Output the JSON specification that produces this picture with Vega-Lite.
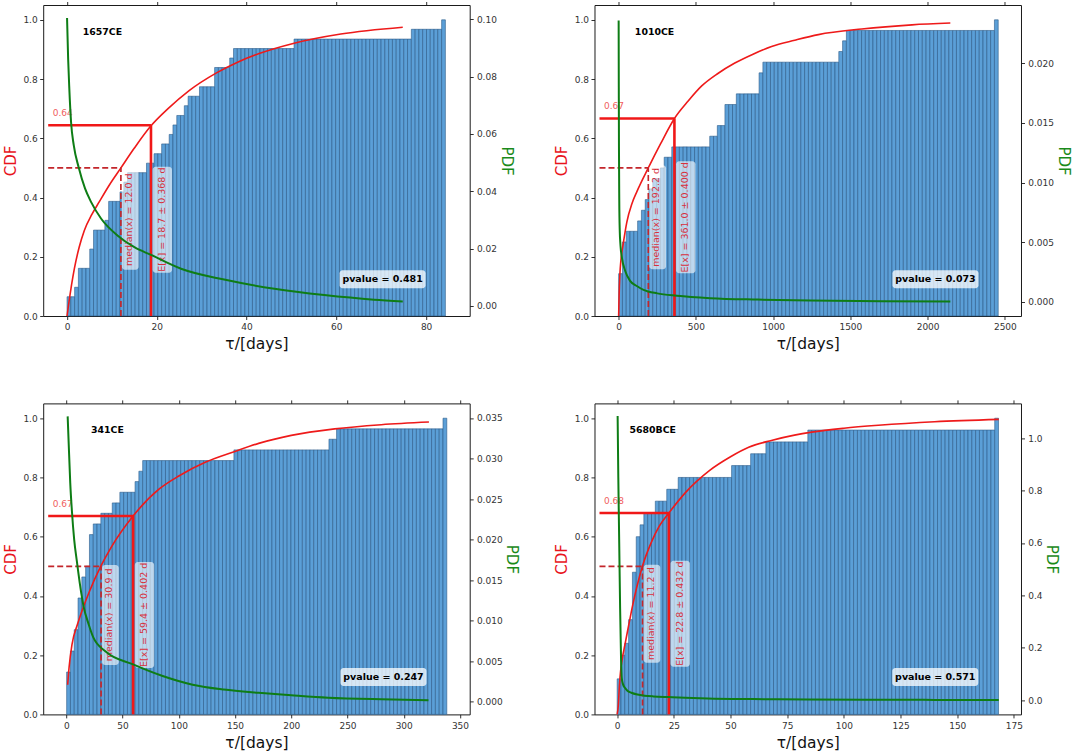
{
"$schema": "https://vega.github.io/schema/vega-lite/v6.json",
"background": "white",
"padding": {"left": 2.2, "top": 0, "right": 2, "bottom": 2},
"columns": 2,
"spacing": {"row": 87.4, "column": 124.3},
"bounds": "flush",
"datasets": {
"a1": [{"title":"1657CE","tx":3.5,"ty":0.96,"median":12.0,"mean":18.7,"cm":0.644,"half":0.5,"lo":0,"xmin":-4.2,"bc":0.325,"lc":"0.64","lm":"median(x) = 12.0 d","le":"E[x] = 18.7 ± 0.368 d","pv":"pvalue = 0.481","px":70.3,"py":0.124}],
"a2": [{"title":"1010CE","tx":105,"ty":0.958,"median":192.2,"mean":361.0,"cm":0.667,"half":0.5,"lo":0,"xmin":-124,"bc":0.333,"lc":"0.67","lm":"median(x) = 192.2 d","le":"E[x] = 361.0 ± 0.400 d","pv":"pvalue = 0.073","px":2051,"py":0.124}],
"a3": [{"title":"341CE","tx":21.9,"ty":0.96,"median":30.9,"mean":59.4,"cm":0.67,"half":0.5,"lo":0,"xmin":-16.1,"bc":0.336,"lc":"0.67","lm":"median(x) = 30.9 d","le":"E[x] = 59.4 ± 0.402 d","pv":"pvalue = 0.247","px":282,"py":0.126}],
"a4": [{"title":"5680BCE","tx":5.4,"ty":0.96,"median":11.2,"mean":22.8,"cm":0.68,"half":0.5,"lo":0,"xmin":-7.8,"bc":0.34,"lc":"0.68","lm":"median(x) = 11.2 d","le":"E[x] = 22.8 ± 0.432 d","pv":"pvalue = 0.571","px":140.3,"py":0.126}],
"c1": [{"x":0,"cdf":0},{"x":0.5,"cdf":0.055},{"x":1,"cdf":0.105},{"x":1.63,"cdf":0.16},{"x":2.7,"cdf":0.232},{"x":3.85,"cdf":0.289},{"x":5.5,"cdf":0.342},{"x":7.2,"cdf":0.386},{"x":9.5,"cdf":0.444},{"x":12,"cdf":0.5},{"x":15,"cdf":0.567},{"x":18.7,"cdf":0.642},{"x":22.5,"cdf":0.7},{"x":27.2,"cdf":0.761},{"x":33.2,"cdf":0.82},{"x":38,"cdf":0.857},{"x":42.8,"cdf":0.886},{"x":50.6,"cdf":0.921},{"x":61,"cdf":0.952},{"x":74.8,"cdf":0.975}],
"g1": [{"x":0,"pdf":0.1005},{"x":0.25,"pdf":0.086},{"x":0.5,"pdf":0.076},{"x":0.9,"pdf":0.064},{"x":1.5,"pdf":0.056},{"x":2.6,"pdf":0.0483},{"x":4,"pdf":0.041},{"x":5.34,"pdf":0.0363},{"x":7.57,"pdf":0.0305},{"x":11.3,"pdf":0.0245},{"x":15,"pdf":0.0205},{"x":18.7,"pdf":0.0178},{"x":25.4,"pdf":0.013},{"x":35,"pdf":0.0092},{"x":46.2,"pdf":0.006},{"x":57.3,"pdf":0.0038},{"x":68.4,"pdf":0.0022},{"x":74.8,"pdf":0.0016}],
"c2": [{"x":0,"cdf":0},{"x":3,"cdf":0.07},{"x":8,"cdf":0.14},{"x":15,"cdf":0.19},{"x":30,"cdf":0.245},{"x":53,"cdf":0.317},{"x":86.5,"cdf":0.38},{"x":118,"cdf":0.42},{"x":192,"cdf":0.5},{"x":270,"cdf":0.58},{"x":361,"cdf":0.667},{"x":450,"cdf":0.726},{"x":536,"cdf":0.776},{"x":640,"cdf":0.818},{"x":752,"cdf":0.854},{"x":870,"cdf":0.884},{"x":990,"cdf":0.91},{"x":1140,"cdf":0.931},{"x":1293,"cdf":0.95},{"x":1574,"cdf":0.969},{"x":1899,"cdf":0.983},{"x":2147,"cdf":0.989}],
"g2": [{"x":0,"pdf":0.0236},{"x":1,"pdf":0.018},{"x":2,"pdf":0.013},{"x":4,"pdf":0.0085},{"x":7,"pdf":0.006},{"x":12,"pdf":0.0047},{"x":21,"pdf":0.0037},{"x":42,"pdf":0.0026},{"x":74,"pdf":0.00175},{"x":120,"pdf":0.0013},{"x":161,"pdf":0.001},{"x":250,"pdf":0.0007},{"x":377,"pdf":0.0005},{"x":593,"pdf":0.0003},{"x":900,"pdf":0.00018},{"x":1242,"pdf":0.0001},{"x":1700,"pdf":0.00004},{"x":2147,"pdf":0.00001}],
"c3": [{"x":1.2,"cdf":0.1},{"x":2.5,"cdf":0.16},{"x":5,"cdf":0.235},{"x":10,"cdf":0.305},{"x":15.3,"cdf":0.364},{"x":20,"cdf":0.41},{"x":30.9,"cdf":0.502},{"x":40,"cdf":0.565},{"x":59.4,"cdf":0.67},{"x":82.9,"cdf":0.762},{"x":100,"cdf":0.805},{"x":124,"cdf":0.852},{"x":150,"cdf":0.888},{"x":171,"cdf":0.915},{"x":200,"cdf":0.942},{"x":238.6,"cdf":0.964},{"x":280,"cdf":0.978},{"x":322.4,"cdf":0.987}],
"g3": [{"x":1.2,"pdf":0.0352},{"x":2.5,"pdf":0.0305},{"x":3.5,"pdf":0.027},{"x":5,"pdf":0.0235},{"x":7,"pdf":0.02},{"x":9.4,"pdf":0.0173},{"x":12,"pdf":0.0146},{"x":15.3,"pdf":0.0118},{"x":20,"pdf":0.0095},{"x":24.1,"pdf":0.0079},{"x":35,"pdf":0.0062},{"x":59.4,"pdf":0.0046},{"x":85,"pdf":0.0032},{"x":112.3,"pdf":0.0021},{"x":140,"pdf":0.0015},{"x":171,"pdf":0.0011},{"x":200,"pdf":0.0008},{"x":232.7,"pdf":0.0005},{"x":280,"pdf":0.0003},{"x":322,"pdf":0.0002}],
"c4": [{"x":0,"cdf":0},{"x":0.5,"cdf":0.03},{"x":1,"cdf":0.1},{"x":1.5,"cdf":0.145},{"x":2.3,"cdf":0.19},{"x":3.4,"cdf":0.235},{"x":4.8,"cdf":0.29},{"x":6.25,"cdf":0.347},{"x":8.5,"cdf":0.425},{"x":11.2,"cdf":0.502},{"x":15,"cdf":0.58},{"x":18.5,"cdf":0.635},{"x":22.8,"cdf":0.68},{"x":30,"cdf":0.748},{"x":40.8,"cdf":0.824},{"x":50,"cdf":0.87},{"x":58,"cdf":0.902},{"x":68,"cdf":0.925},{"x":78.2,"cdf":0.943},{"x":85.8,"cdf":0.953},{"x":100,"cdf":0.966},{"x":115.2,"cdf":0.976},{"x":140,"cdf":0.988},{"x":168.3,"cdf":0.996}],
"g4": [{"x":0.2,"pdf":1.085},{"x":0.5,"pdf":0.85},{"x":0.9,"pdf":0.6},{"x":1.3,"pdf":0.35},{"x":1.7,"pdf":0.16},{"x":2,"pdf":0.085},{"x":2.6,"pdf":0.06},{"x":3.4,"pdf":0.047},{"x":4.5,"pdf":0.036},{"x":6.25,"pdf":0.028},{"x":9,"pdf":0.021},{"x":12,"pdf":0.017},{"x":16,"pdf":0.014},{"x":22.8,"pdf":0.0114},{"x":30,"pdf":0.009},{"x":40,"pdf":0.0065},{"x":60,"pdf":0.004},{"x":84,"pdf":0.0022},{"x":110,"pdf":0.0013},{"x":140,"pdf":0.0008},{"x":168.3,"pdf":0.0005}],
"b1": [
{"x0":0,"x1":0.84,"cdf":0.065},{"x0":0.84,"x1":1.69,"cdf":0.065},{"x0":1.69,"x1":2.53,"cdf":0.097},{"x0":2.53,"x1":3.37,"cdf":0.161},{"x0":3.37,"x1":4.22,"cdf":0.161},{"x0":4.22,"x1":5.06,"cdf":0.161},{"x0":5.06,"x1":5.9,"cdf":0.226},{"x0":5.9,"x1":6.74,"cdf":0.29},{"x0":6.74,"x1":7.59,"cdf":0.29},{"x0":7.59,"x1":8.43,"cdf":0.29},
{"x0":8.43,"x1":9.27,"cdf":0.323},{"x0":9.27,"x1":10.12,"cdf":0.387},{"x0":10.12,"x1":10.96,"cdf":0.387},{"x0":10.96,"x1":11.8,"cdf":0.387},{"x0":11.8,"x1":12.65,"cdf":0.419},{"x0":12.65,"x1":13.49,"cdf":0.452},{"x0":13.49,"x1":14.33,"cdf":0.484},{"x0":14.33,"x1":15.17,"cdf":0.484},{"x0":15.17,"x1":16.02,"cdf":0.484},{"x0":16.02,"x1":16.86,"cdf":0.484},
{"x0":16.86,"x1":17.7,"cdf":0.484},{"x0":17.7,"x1":18.55,"cdf":0.516},{"x0":18.55,"x1":19.39,"cdf":0.516},{"x0":19.39,"x1":20.23,"cdf":0.548},{"x0":20.23,"x1":21.08,"cdf":0.548},{"x0":21.08,"x1":21.92,"cdf":0.581},{"x0":21.92,"x1":22.76,"cdf":0.581},{"x0":22.76,"x1":23.6,"cdf":0.613},{"x0":23.6,"x1":24.45,"cdf":0.645},{"x0":24.45,"x1":25.29,"cdf":0.677},
{"x0":25.29,"x1":26.13,"cdf":0.677},{"x0":26.13,"x1":26.98,"cdf":0.71},{"x0":26.98,"x1":27.82,"cdf":0.742},{"x0":27.82,"x1":28.66,"cdf":0.742},{"x0":28.66,"x1":29.51,"cdf":0.742},{"x0":29.51,"x1":30.35,"cdf":0.774},{"x0":30.35,"x1":31.19,"cdf":0.774},{"x0":31.19,"x1":32.03,"cdf":0.774},{"x0":32.03,"x1":32.88,"cdf":0.774},{"x0":32.88,"x1":33.72,"cdf":0.839},
{"x0":33.72,"x1":34.56,"cdf":0.839},{"x0":34.56,"x1":35.41,"cdf":0.839},{"x0":35.41,"x1":36.25,"cdf":0.839},{"x0":36.25,"x1":37.09,"cdf":0.871},{"x0":37.09,"x1":37.94,"cdf":0.903},{"x0":37.94,"x1":38.78,"cdf":0.903},{"x0":38.78,"x1":39.62,"cdf":0.903},{"x0":39.62,"x1":40.46,"cdf":0.903},{"x0":40.46,"x1":41.31,"cdf":0.903},{"x0":41.31,"x1":42.15,"cdf":0.903},
{"x0":42.15,"x1":42.99,"cdf":0.903},{"x0":42.99,"x1":43.84,"cdf":0.903},{"x0":43.84,"x1":44.68,"cdf":0.903},{"x0":44.68,"x1":45.52,"cdf":0.903},{"x0":45.52,"x1":46.37,"cdf":0.903},{"x0":46.37,"x1":47.21,"cdf":0.903},{"x0":47.21,"x1":48.05,"cdf":0.903},{"x0":48.05,"x1":48.89,"cdf":0.903},{"x0":48.89,"x1":49.74,"cdf":0.903},{"x0":49.74,"x1":50.58,"cdf":0.903},
{"x0":50.58,"x1":51.42,"cdf":0.935},{"x0":51.42,"x1":52.27,"cdf":0.935},{"x0":52.27,"x1":53.11,"cdf":0.935},{"x0":53.11,"x1":53.95,"cdf":0.935},{"x0":53.95,"x1":54.8,"cdf":0.935},{"x0":54.8,"x1":55.64,"cdf":0.935},{"x0":55.64,"x1":56.48,"cdf":0.935},{"x0":56.48,"x1":57.32,"cdf":0.935},{"x0":57.32,"x1":58.17,"cdf":0.935},{"x0":58.17,"x1":59.01,"cdf":0.935},
{"x0":59.01,"x1":59.85,"cdf":0.935},{"x0":59.85,"x1":60.7,"cdf":0.935},{"x0":60.7,"x1":61.54,"cdf":0.935},{"x0":61.54,"x1":62.38,"cdf":0.935},{"x0":62.38,"x1":63.23,"cdf":0.935},{"x0":63.23,"x1":64.07,"cdf":0.935},{"x0":64.07,"x1":64.91,"cdf":0.935},{"x0":64.91,"x1":65.75,"cdf":0.935},{"x0":65.75,"x1":66.6,"cdf":0.935},{"x0":66.6,"x1":67.44,"cdf":0.935},
{"x0":67.44,"x1":68.28,"cdf":0.935},{"x0":68.28,"x1":69.13,"cdf":0.935},{"x0":69.13,"x1":69.97,"cdf":0.935},{"x0":69.97,"x1":70.81,"cdf":0.935},{"x0":70.81,"x1":71.66,"cdf":0.935},{"x0":71.66,"x1":72.5,"cdf":0.935},{"x0":72.5,"x1":73.34,"cdf":0.935},{"x0":73.34,"x1":74.18,"cdf":0.935},{"x0":74.18,"x1":75.03,"cdf":0.935},{"x0":75.03,"x1":75.87,"cdf":0.935},
{"x0":75.87,"x1":76.71,"cdf":0.935},{"x0":76.71,"x1":77.56,"cdf":0.968},{"x0":77.56,"x1":78.4,"cdf":0.968},{"x0":78.4,"x1":79.24,"cdf":0.968},{"x0":79.24,"x1":80.09,"cdf":0.968},{"x0":80.09,"x1":80.93,"cdf":0.968},{"x0":80.93,"x1":81.77,"cdf":0.968},{"x0":81.77,"x1":82.61,"cdf":0.968},{"x0":82.61,"x1":83.46,"cdf":0.968},{"x0":83.46,"x1":84.3,"cdf":1.0}],
"b2": [
{"x0":0,"x1":24.6,"cdf":0.143},{"x0":24.6,"x1":49.1,"cdf":0.25},{"x0":49.1,"x1":73.7,"cdf":0.286},{"x0":73.7,"x1":98.3,"cdf":0.286},{"x0":98.3,"x1":122.9,"cdf":0.286},{"x0":122.9,"x1":147.4,"cdf":0.321},{"x0":147.4,"x1":172,"cdf":0.357},{"x0":172,"x1":196.6,"cdf":0.393},{"x0":196.6,"x1":221.1,"cdf":0.429},{"x0":221.1,"x1":245.7,"cdf":0.464},
{"x0":245.7,"x1":270.3,"cdf":0.464},{"x0":270.3,"x1":294.8,"cdf":0.5},{"x0":294.8,"x1":319.4,"cdf":0.536},{"x0":319.4,"x1":344,"cdf":0.536},{"x0":344,"x1":368.6,"cdf":0.571},{"x0":368.6,"x1":393.1,"cdf":0.571},{"x0":393.1,"x1":417.7,"cdf":0.571},{"x0":417.7,"x1":442.3,"cdf":0.571},{"x0":442.3,"x1":466.8,"cdf":0.571},{"x0":466.8,"x1":491.4,"cdf":0.571},
{"x0":491.4,"x1":516,"cdf":0.571},{"x0":516,"x1":540.5,"cdf":0.571},{"x0":540.5,"x1":565.1,"cdf":0.571},{"x0":565.1,"x1":589.7,"cdf":0.571},{"x0":589.7,"x1":614.3,"cdf":0.607},{"x0":614.3,"x1":638.8,"cdf":0.607},{"x0":638.8,"x1":663.4,"cdf":0.643},{"x0":663.4,"x1":688,"cdf":0.643},{"x0":688,"x1":712.5,"cdf":0.714},{"x0":712.5,"x1":737.1,"cdf":0.714},
{"x0":737.1,"x1":761.7,"cdf":0.714},{"x0":761.7,"x1":786.2,"cdf":0.75},{"x0":786.2,"x1":810.8,"cdf":0.75},{"x0":810.8,"x1":835.4,"cdf":0.75},{"x0":835.4,"x1":860,"cdf":0.75},{"x0":860,"x1":884.5,"cdf":0.75},{"x0":884.5,"x1":909.1,"cdf":0.75},{"x0":909.1,"x1":933.7,"cdf":0.821},{"x0":933.7,"x1":958.2,"cdf":0.857},{"x0":958.2,"x1":982.8,"cdf":0.857},
{"x0":982.8,"x1":1007.4,"cdf":0.857},{"x0":1007.4,"x1":1031.9,"cdf":0.857},{"x0":1031.9,"x1":1056.5,"cdf":0.857},{"x0":1056.5,"x1":1081.1,"cdf":0.857},{"x0":1081.1,"x1":1105.7,"cdf":0.857},{"x0":1105.7,"x1":1130.2,"cdf":0.857},{"x0":1130.2,"x1":1154.8,"cdf":0.857},{"x0":1154.8,"x1":1179.4,"cdf":0.857},{"x0":1179.4,"x1":1203.9,"cdf":0.857},{"x0":1203.9,"x1":1228.5,"cdf":0.857},
{"x0":1228.5,"x1":1253.1,"cdf":0.857},{"x0":1253.1,"x1":1277.6,"cdf":0.857},{"x0":1277.6,"x1":1302.2,"cdf":0.857},{"x0":1302.2,"x1":1326.8,"cdf":0.857},{"x0":1326.8,"x1":1351.4,"cdf":0.857},{"x0":1351.4,"x1":1375.9,"cdf":0.857},{"x0":1375.9,"x1":1400.5,"cdf":0.857},{"x0":1400.5,"x1":1425.1,"cdf":0.857},{"x0":1425.1,"x1":1449.6,"cdf":0.893},{"x0":1449.6,"x1":1474.2,"cdf":0.929},
{"x0":1474.2,"x1":1498.8,"cdf":0.964},{"x0":1498.8,"x1":1523.3,"cdf":0.964},{"x0":1523.3,"x1":1547.9,"cdf":0.964},{"x0":1547.9,"x1":1572.5,"cdf":0.964},{"x0":1572.5,"x1":1597.1,"cdf":0.964},{"x0":1597.1,"x1":1621.6,"cdf":0.964},{"x0":1621.6,"x1":1646.2,"cdf":0.964},{"x0":1646.2,"x1":1670.8,"cdf":0.964},{"x0":1670.8,"x1":1695.3,"cdf":0.964},{"x0":1695.3,"x1":1719.9,"cdf":0.964},
{"x0":1719.9,"x1":1744.5,"cdf":0.964},{"x0":1744.5,"x1":1769,"cdf":0.964},{"x0":1769,"x1":1793.6,"cdf":0.964},{"x0":1793.6,"x1":1818.2,"cdf":0.964},{"x0":1818.2,"x1":1842.8,"cdf":0.964},{"x0":1842.8,"x1":1867.3,"cdf":0.964},{"x0":1867.3,"x1":1891.9,"cdf":0.964},{"x0":1891.9,"x1":1916.5,"cdf":0.964},{"x0":1916.5,"x1":1941,"cdf":0.964},{"x0":1941,"x1":1965.6,"cdf":0.964},
{"x0":1965.6,"x1":1990.2,"cdf":0.964},{"x0":1990.2,"x1":2014.7,"cdf":0.964},{"x0":2014.7,"x1":2039.3,"cdf":0.964},{"x0":2039.3,"x1":2063.9,"cdf":0.964},{"x0":2063.9,"x1":2088.5,"cdf":0.964},{"x0":2088.5,"x1":2113,"cdf":0.964},{"x0":2113,"x1":2137.6,"cdf":0.964},{"x0":2137.6,"x1":2162.2,"cdf":0.964},{"x0":2162.2,"x1":2186.7,"cdf":0.964},{"x0":2186.7,"x1":2211.3,"cdf":0.964},
{"x0":2211.3,"x1":2235.9,"cdf":0.964},{"x0":2235.9,"x1":2260.4,"cdf":0.964},{"x0":2260.4,"x1":2285,"cdf":0.964},{"x0":2285,"x1":2309.6,"cdf":0.964},{"x0":2309.6,"x1":2334.2,"cdf":0.964},{"x0":2334.2,"x1":2358.7,"cdf":0.964},{"x0":2358.7,"x1":2383.3,"cdf":0.964},{"x0":2383.3,"x1":2407.9,"cdf":0.964},{"x0":2407.9,"x1":2432.4,"cdf":0.964},{"x0":2432.4,"x1":2457,"cdf":1.0}],
"b3": [
{"x0":0.3,"x1":3.68,"cdf":0.143},{"x0":3.68,"x1":7.06,"cdf":0.214},{"x0":7.06,"x1":10.44,"cdf":0.286},{"x0":10.44,"x1":13.82,"cdf":0.393},{"x0":13.82,"x1":17.2,"cdf":0.464},{"x0":17.2,"x1":20.58,"cdf":0.5},{"x0":20.58,"x1":23.96,"cdf":0.607},{"x0":23.96,"x1":27.34,"cdf":0.643},{"x0":27.34,"x1":30.72,"cdf":0.643},{"x0":30.72,"x1":34.1,"cdf":0.679},
{"x0":34.1,"x1":37.48,"cdf":0.679},{"x0":37.48,"x1":40.86,"cdf":0.679},{"x0":40.86,"x1":44.24,"cdf":0.714},{"x0":44.24,"x1":47.62,"cdf":0.714},{"x0":47.62,"x1":51,"cdf":0.75},{"x0":51,"x1":54.38,"cdf":0.75},{"x0":54.38,"x1":57.76,"cdf":0.75},{"x0":57.76,"x1":61.14,"cdf":0.75},{"x0":61.14,"x1":64.52,"cdf":0.786},{"x0":64.52,"x1":67.9,"cdf":0.821},
{"x0":67.9,"x1":71.28,"cdf":0.857},{"x0":71.28,"x1":74.66,"cdf":0.857},{"x0":74.66,"x1":78.04,"cdf":0.857},{"x0":78.04,"x1":81.42,"cdf":0.857},{"x0":81.42,"x1":84.8,"cdf":0.857},{"x0":84.8,"x1":88.18,"cdf":0.857},{"x0":88.18,"x1":91.56,"cdf":0.857},{"x0":91.56,"x1":94.94,"cdf":0.857},{"x0":94.94,"x1":98.32,"cdf":0.857},{"x0":98.32,"x1":101.7,"cdf":0.857},
{"x0":101.7,"x1":105.08,"cdf":0.857},{"x0":105.08,"x1":108.46,"cdf":0.857},{"x0":108.46,"x1":111.84,"cdf":0.857},{"x0":111.84,"x1":115.22,"cdf":0.857},{"x0":115.22,"x1":118.6,"cdf":0.857},{"x0":118.6,"x1":121.98,"cdf":0.857},{"x0":121.98,"x1":125.36,"cdf":0.857},{"x0":125.36,"x1":128.74,"cdf":0.857},{"x0":128.74,"x1":132.12,"cdf":0.857},{"x0":132.12,"x1":135.5,"cdf":0.857},
{"x0":135.5,"x1":138.88,"cdf":0.857},{"x0":138.88,"x1":142.26,"cdf":0.857},{"x0":142.26,"x1":145.64,"cdf":0.857},{"x0":145.64,"x1":149.02,"cdf":0.857},{"x0":149.02,"x1":152.4,"cdf":0.893},{"x0":152.4,"x1":155.78,"cdf":0.893},{"x0":155.78,"x1":159.16,"cdf":0.893},{"x0":159.16,"x1":162.54,"cdf":0.893},{"x0":162.54,"x1":165.92,"cdf":0.893},{"x0":165.92,"x1":169.3,"cdf":0.893},
{"x0":169.3,"x1":172.68,"cdf":0.893},{"x0":172.68,"x1":176.06,"cdf":0.893},{"x0":176.06,"x1":179.44,"cdf":0.893},{"x0":179.44,"x1":182.82,"cdf":0.893},{"x0":182.82,"x1":186.2,"cdf":0.893},{"x0":186.2,"x1":189.58,"cdf":0.893},{"x0":189.58,"x1":192.96,"cdf":0.893},{"x0":192.96,"x1":196.34,"cdf":0.893},{"x0":196.34,"x1":199.72,"cdf":0.893},{"x0":199.72,"x1":203.1,"cdf":0.893},
{"x0":203.1,"x1":206.48,"cdf":0.893},{"x0":206.48,"x1":209.86,"cdf":0.893},{"x0":209.86,"x1":213.24,"cdf":0.893},{"x0":213.24,"x1":216.62,"cdf":0.893},{"x0":216.62,"x1":220,"cdf":0.893},{"x0":220,"x1":223.38,"cdf":0.893},{"x0":223.38,"x1":226.76,"cdf":0.893},{"x0":226.76,"x1":230.14,"cdf":0.893},{"x0":230.14,"x1":233.52,"cdf":0.893},{"x0":233.52,"x1":236.9,"cdf":0.929},
{"x0":236.9,"x1":240.28,"cdf":0.929},{"x0":240.28,"x1":243.66,"cdf":0.964},{"x0":243.66,"x1":247.04,"cdf":0.964},{"x0":247.04,"x1":250.42,"cdf":0.964},{"x0":250.42,"x1":253.8,"cdf":0.964},{"x0":253.8,"x1":257.18,"cdf":0.964},{"x0":257.18,"x1":260.56,"cdf":0.964},{"x0":260.56,"x1":263.94,"cdf":0.964},{"x0":263.94,"x1":267.32,"cdf":0.964},{"x0":267.32,"x1":270.7,"cdf":0.964},
{"x0":270.7,"x1":274.08,"cdf":0.964},{"x0":274.08,"x1":277.46,"cdf":0.964},{"x0":277.46,"x1":280.84,"cdf":0.964},{"x0":280.84,"x1":284.22,"cdf":0.964},{"x0":284.22,"x1":287.6,"cdf":0.964},{"x0":287.6,"x1":290.98,"cdf":0.964},{"x0":290.98,"x1":294.36,"cdf":0.964},{"x0":294.36,"x1":297.74,"cdf":0.964},{"x0":297.74,"x1":301.12,"cdf":0.964},{"x0":301.12,"x1":304.5,"cdf":0.964},
{"x0":304.5,"x1":307.88,"cdf":0.964},{"x0":307.88,"x1":311.26,"cdf":0.964},{"x0":311.26,"x1":314.64,"cdf":0.964},{"x0":314.64,"x1":318.02,"cdf":0.964},{"x0":318.02,"x1":321.4,"cdf":0.964},{"x0":321.4,"x1":324.78,"cdf":0.964},{"x0":324.78,"x1":328.16,"cdf":0.964},{"x0":328.16,"x1":331.54,"cdf":0.964},{"x0":331.54,"x1":334.92,"cdf":0.964},{"x0":334.92,"x1":338.3,"cdf":1.0}],
"b4": [
{"x0":0,"x1":1.68,"cdf":0.12},{"x0":1.68,"x1":3.36,"cdf":0.2},{"x0":3.36,"x1":5.05,"cdf":0.24},{"x0":5.05,"x1":6.73,"cdf":0.32},{"x0":6.73,"x1":8.41,"cdf":0.48},{"x0":8.41,"x1":10.09,"cdf":0.6},{"x0":10.09,"x1":11.77,"cdf":0.64},{"x0":11.77,"x1":13.46,"cdf":0.68},{"x0":13.46,"x1":15.14,"cdf":0.68},{"x0":15.14,"x1":16.82,"cdf":0.68},
{"x0":16.82,"x1":18.5,"cdf":0.72},{"x0":18.5,"x1":20.18,"cdf":0.72},{"x0":20.18,"x1":21.87,"cdf":0.72},{"x0":21.87,"x1":23.55,"cdf":0.76},{"x0":23.55,"x1":25.23,"cdf":0.76},{"x0":25.23,"x1":26.91,"cdf":0.76},{"x0":26.91,"x1":28.59,"cdf":0.8},{"x0":28.59,"x1":30.28,"cdf":0.8},{"x0":30.28,"x1":31.96,"cdf":0.8},{"x0":31.96,"x1":33.64,"cdf":0.8},
{"x0":33.64,"x1":35.32,"cdf":0.8},{"x0":35.32,"x1":37,"cdf":0.8},{"x0":37,"x1":38.69,"cdf":0.8},{"x0":38.69,"x1":40.37,"cdf":0.8},{"x0":40.37,"x1":42.05,"cdf":0.8},{"x0":42.05,"x1":43.73,"cdf":0.8},{"x0":43.73,"x1":45.41,"cdf":0.8},{"x0":45.41,"x1":47.1,"cdf":0.8},{"x0":47.1,"x1":48.78,"cdf":0.8},{"x0":48.78,"x1":50.46,"cdf":0.8},
{"x0":50.46,"x1":52.14,"cdf":0.84},{"x0":52.14,"x1":53.82,"cdf":0.84},{"x0":53.82,"x1":55.51,"cdf":0.84},{"x0":55.51,"x1":57.19,"cdf":0.84},{"x0":57.19,"x1":58.87,"cdf":0.84},{"x0":58.87,"x1":60.55,"cdf":0.88},{"x0":60.55,"x1":62.23,"cdf":0.88},{"x0":62.23,"x1":63.92,"cdf":0.88},{"x0":63.92,"x1":65.6,"cdf":0.88},{"x0":65.6,"x1":67.28,"cdf":0.92},
{"x0":67.28,"x1":68.96,"cdf":0.92},{"x0":68.96,"x1":70.64,"cdf":0.92},{"x0":70.64,"x1":72.33,"cdf":0.92},{"x0":72.33,"x1":74.01,"cdf":0.92},{"x0":74.01,"x1":75.69,"cdf":0.92},{"x0":75.69,"x1":77.37,"cdf":0.92},{"x0":77.37,"x1":79.05,"cdf":0.92},{"x0":79.05,"x1":80.74,"cdf":0.92},{"x0":80.74,"x1":82.42,"cdf":0.92},{"x0":82.42,"x1":84.1,"cdf":0.92},
{"x0":84.1,"x1":85.78,"cdf":0.96},{"x0":85.78,"x1":87.46,"cdf":0.96},{"x0":87.46,"x1":89.15,"cdf":0.96},{"x0":89.15,"x1":90.83,"cdf":0.96},{"x0":90.83,"x1":92.51,"cdf":0.96},{"x0":92.51,"x1":94.19,"cdf":0.96},{"x0":94.19,"x1":95.87,"cdf":0.96},{"x0":95.87,"x1":97.56,"cdf":0.96},{"x0":97.56,"x1":99.24,"cdf":0.96},{"x0":99.24,"x1":100.92,"cdf":0.96},
{"x0":100.92,"x1":102.6,"cdf":0.96},{"x0":102.6,"x1":104.28,"cdf":0.96},{"x0":104.28,"x1":105.97,"cdf":0.96},{"x0":105.97,"x1":107.65,"cdf":0.96},{"x0":107.65,"x1":109.33,"cdf":0.96},{"x0":109.33,"x1":111.01,"cdf":0.96},{"x0":111.01,"x1":112.69,"cdf":0.96},{"x0":112.69,"x1":114.38,"cdf":0.96},{"x0":114.38,"x1":116.06,"cdf":0.96},{"x0":116.06,"x1":117.74,"cdf":0.96},
{"x0":117.74,"x1":119.42,"cdf":0.96},{"x0":119.42,"x1":121.1,"cdf":0.96},{"x0":121.1,"x1":122.79,"cdf":0.96},{"x0":122.79,"x1":124.47,"cdf":0.96},{"x0":124.47,"x1":126.15,"cdf":0.96},{"x0":126.15,"x1":127.83,"cdf":0.96},{"x0":127.83,"x1":129.51,"cdf":0.96},{"x0":129.51,"x1":131.2,"cdf":0.96},{"x0":131.2,"x1":132.88,"cdf":0.96},{"x0":132.88,"x1":134.56,"cdf":0.96},
{"x0":134.56,"x1":136.24,"cdf":0.96},{"x0":136.24,"x1":137.92,"cdf":0.96},{"x0":137.92,"x1":139.61,"cdf":0.96},{"x0":139.61,"x1":141.29,"cdf":0.96},{"x0":141.29,"x1":142.97,"cdf":0.96},{"x0":142.97,"x1":144.65,"cdf":0.96},{"x0":144.65,"x1":146.33,"cdf":0.96},{"x0":146.33,"x1":148.02,"cdf":0.96},{"x0":148.02,"x1":149.7,"cdf":0.96},{"x0":149.7,"x1":151.38,"cdf":0.96},
{"x0":151.38,"x1":153.06,"cdf":0.96},{"x0":153.06,"x1":154.74,"cdf":0.96},{"x0":154.74,"x1":156.43,"cdf":0.96},{"x0":156.43,"x1":158.11,"cdf":0.96},{"x0":158.11,"x1":159.79,"cdf":0.96},{"x0":159.79,"x1":161.47,"cdf":0.96},{"x0":161.47,"x1":163.15,"cdf":0.96},{"x0":163.15,"x1":164.84,"cdf":0.96},{"x0":164.84,"x1":166.52,"cdf":0.96},{"x0":166.52,"x1":168.2,"cdf":1.0}]
},
"concat": [
{
"width": 426.5, "height": 311,
"layer": [
{"data":{"name":"b1"},"mark":{"type":"bar","orient":"vertical","fill":"#5b9fd7","stroke":"#2b5b88","strokeWidth":0.6},
 "encoding":{"x":{"field":"x0","type":"quantitative","scale":{"domain":[-4.2,88.6],"nice":false,"zero":false},"axis":{"orient":"bottom","values":[0,20,40,60,80],"format":"d","title":"τ/[days]"}},
  "x2":{"field":"x1"},
  "y":{"field":"cdf","type":"quantitative","scale":{"domain":[0,1.05],"nice":false,"zero":false},"axis":{"orient":"left","values":[0,0.2,0.4,0.6,0.8,1],"format":".1f","title":"CDF","titleColor":"#e8141c"}}}},
{"data":{"name":"c1"},"mark":{"type":"line","color":"#ee1a1a","strokeWidth":1.6,"interpolate":"monotone"},
 "encoding":{"x":{"field":"x","type":"quantitative","axis":{"orient":"top","values":[0,20,40,60,80],"labels":false,"title":null}},"y":{"field":"cdf","type":"quantitative","scale":{"domain":[0,1.05],"nice":false,"zero":false},"axis":null}}},
{"data":{"name":"a1"},"mark":{"type":"rule","color":"#c3262b","strokeWidth":1.7,"strokeDash":[6,3]},
 "encoding":{"x":{"field":"xmin","type":"quantitative","axis":null},"x2":{"field":"median"},"y":{"field":"half","type":"quantitative","scale":{"domain":[0,1.05],"nice":false,"zero":false},"axis":null}}},
{"data":{"name":"a1"},"mark":{"type":"rule","color":"#c3262b","strokeWidth":1.7,"strokeDash":[6,3]},
 "encoding":{"x":{"field":"median","type":"quantitative","axis":null},"y":{"field":"lo","type":"quantitative","scale":{"domain":[0,1.05],"nice":false,"zero":false},"axis":null},"y2":{"field":"half"}}},
{"data":{"name":"a1"},"mark":{"type":"rule","color":"#f01818","strokeWidth":2.6},
 "encoding":{"x":{"field":"xmin","type":"quantitative","axis":null},"x2":{"field":"mean"},"y":{"field":"cm","type":"quantitative","scale":{"domain":[0,1.05],"nice":false,"zero":false},"axis":null}}},
{"data":{"name":"a1"},"mark":{"type":"rule","color":"#f01818","strokeWidth":2.6},
 "encoding":{"x":{"field":"mean","type":"quantitative","axis":null},"y":{"field":"lo","type":"quantitative","scale":{"domain":[0,1.05],"nice":false,"zero":false},"axis":null},"y2":{"field":"cm"}}},
{"data":{"name":"a1"},"mark":{"type":"text","align":"left","baseline":"middle","dx":4.5,"dy":-12,"fontSize":9,"color":"#f06060"},
 "encoding":{"x":{"field":"xmin","type":"quantitative","axis":null},"y":{"field":"cm","type":"quantitative","scale":{"domain":[0,1.05],"nice":false,"zero":false},"axis":null},"text":{"field":"lc"}}},
{"data":{"name":"a1"},"mark":{"type":"rect","fill":"white","opacity":0.6,"cornerRadius":3,"xOffset":1,"x2Offset":17.7,"yOffset":50,"y2Offset":-50},
 "encoding":{"x":{"field":"median","type":"quantitative","axis":null},"x2":{"field":"median"},"y":{"field":"bc","type":"quantitative","scale":{"domain":[0,1.05],"nice":false,"zero":false},"axis":null},"y2":{"field":"bc"}}},
{"data":{"name":"a1"},"mark":{"type":"rect","fill":"white","opacity":0.6,"cornerRadius":3,"xOffset":1.7,"x2Offset":21,"yOffset":53,"y2Offset":-53},
 "encoding":{"x":{"field":"mean","type":"quantitative","axis":null},"x2":{"field":"mean"},"y":{"field":"bc","type":"quantitative","scale":{"domain":[0,1.05],"nice":false,"zero":false},"axis":null},"y2":{"field":"bc"}}},
{"data":{"name":"a1"},"mark":{"type":"text","angle":270,"align":"center","baseline":"top","dy":3,"fontSize":9.5,"color":"#d8303c"},
 "encoding":{"x":{"field":"median","type":"quantitative","axis":null},"y":{"field":"bc","type":"quantitative","scale":{"domain":[0,1.05],"nice":false,"zero":false},"axis":null},"text":{"field":"lm"}}},
{"data":{"name":"a1"},"mark":{"type":"text","angle":270,"align":"center","baseline":"top","dy":6,"fontSize":9.5,"color":"#d8303c"},
 "encoding":{"x":{"field":"mean","type":"quantitative","axis":null},"y":{"field":"bc","type":"quantitative","scale":{"domain":[0,1.05],"nice":false,"zero":false},"axis":null},"text":{"field":"le"}}},
{"data":{"name":"a1"},"mark":{"type":"text","align":"left","baseline":"middle","fontSize":9.4,"fontWeight":"bold","color":"black"},
 "encoding":{"x":{"field":"tx","type":"quantitative","axis":null},"y":{"field":"ty","type":"quantitative","scale":{"domain":[0,1.05],"nice":false,"zero":false},"axis":null},"text":{"field":"title"}}},
{"data":{"name":"a1"},"mark":{"type":"rect","fill":"white","opacity":0.75,"cornerRadius":3,"xOffset":-43,"x2Offset":43,"yOffset":9,"y2Offset":-9},
 "encoding":{"x":{"field":"px","type":"quantitative","axis":null},"x2":{"field":"px"},"y":{"field":"py","type":"quantitative","scale":{"domain":[0,1.05],"nice":false,"zero":false},"axis":null},"y2":{"field":"py"}}},
{"data":{"name":"a1"},"mark":{"type":"text","align":"center","baseline":"middle","fontSize":9.5,"fontWeight":"bold","color":"black"},
 "encoding":{"x":{"field":"px","type":"quantitative","axis":null},"y":{"field":"py","type":"quantitative","scale":{"domain":[0,1.05],"nice":false,"zero":false},"axis":null},"text":{"field":"pv"}}},
{"data":{"name":"g1"},"mark":{"type":"line","color":"#0e7d15","strokeWidth":2,"interpolate":"monotone"},
 "encoding":{"x":{"field":"x","type":"quantitative","axis":null},
  "y":{"field":"pdf","type":"quantitative","scale":{"domain":[-0.0035,0.105],"nice":false,"zero":false},"axis":{"orient":"right","values":[0,0.02,0.04,0.06,0.08,0.1],"format":".2f","title":"PDF","titleColor":"#1a8a1a"}}}}
],
"resolve":{"scale":{"y":"independent"},"axis":{"x":"independent"}}
},
{
"width": 426.5, "height": 311,
"layer": [
{"data":{"name":"b2"},"mark":{"type":"bar","orient":"vertical","fill":"#5b9fd7","stroke":"#2b5b88","strokeWidth":0.6},
 "encoding":{"x":{"field":"x0","type":"quantitative","scale":{"domain":[-124,2572],"nice":false,"zero":false},"axis":{"orient":"bottom","values":[0,500,1000,1500,2000,2500],"format":"d","title":"τ/[days]"}},
  "x2":{"field":"x1"},
  "y":{"field":"cdf","type":"quantitative","scale":{"domain":[0,1.05],"nice":false,"zero":false},"axis":{"orient":"left","values":[0,0.2,0.4,0.6,0.8,1],"format":".1f","title":"CDF","titleColor":"#e8141c"}}}},
{"data":{"name":"c2"},"mark":{"type":"line","color":"#ee1a1a","strokeWidth":1.6,"interpolate":"monotone"},
 "encoding":{"x":{"field":"x","type":"quantitative","axis":{"orient":"top","values":[0,500,1000,1500,2000,2500],"labels":false,"title":null}},"y":{"field":"cdf","type":"quantitative","scale":{"domain":[0,1.05],"nice":false,"zero":false},"axis":null}}},
{"data":{"name":"a2"},"mark":{"type":"rule","color":"#c3262b","strokeWidth":1.7,"strokeDash":[6,3]},
 "encoding":{"x":{"field":"xmin","type":"quantitative","axis":null},"x2":{"field":"median"},"y":{"field":"half","type":"quantitative","scale":{"domain":[0,1.05],"nice":false,"zero":false},"axis":null}}},
{"data":{"name":"a2"},"mark":{"type":"rule","color":"#c3262b","strokeWidth":1.7,"strokeDash":[6,3]},
 "encoding":{"x":{"field":"median","type":"quantitative","axis":null},"y":{"field":"lo","type":"quantitative","scale":{"domain":[0,1.05],"nice":false,"zero":false},"axis":null},"y2":{"field":"half"}}},
{"data":{"name":"a2"},"mark":{"type":"rule","color":"#f01818","strokeWidth":2.6},
 "encoding":{"x":{"field":"xmin","type":"quantitative","axis":null},"x2":{"field":"mean"},"y":{"field":"cm","type":"quantitative","scale":{"domain":[0,1.05],"nice":false,"zero":false},"axis":null}}},
{"data":{"name":"a2"},"mark":{"type":"rule","color":"#f01818","strokeWidth":2.6},
 "encoding":{"x":{"field":"mean","type":"quantitative","axis":null},"y":{"field":"lo","type":"quantitative","scale":{"domain":[0,1.05],"nice":false,"zero":false},"axis":null},"y2":{"field":"cm"}}},
{"data":{"name":"a2"},"mark":{"type":"text","align":"left","baseline":"middle","dx":4.5,"dy":-12,"fontSize":9,"color":"#f06060"},
 "encoding":{"x":{"field":"xmin","type":"quantitative","axis":null},"y":{"field":"cm","type":"quantitative","scale":{"domain":[0,1.05],"nice":false,"zero":false},"axis":null},"text":{"field":"lc"}}},
{"data":{"name":"a2"},"mark":{"type":"rect","fill":"white","opacity":0.6,"cornerRadius":3,"xOffset":1,"x2Offset":17.7,"yOffset":52,"y2Offset":-52},
 "encoding":{"x":{"field":"median","type":"quantitative","axis":null},"x2":{"field":"median"},"y":{"field":"bc","type":"quantitative","scale":{"domain":[0,1.05],"nice":false,"zero":false},"axis":null},"y2":{"field":"bc"}}},
{"data":{"name":"a2"},"mark":{"type":"rect","fill":"white","opacity":0.6,"cornerRadius":3,"xOffset":1.7,"x2Offset":21,"yOffset":56,"y2Offset":-56},
 "encoding":{"x":{"field":"mean","type":"quantitative","axis":null},"x2":{"field":"mean"},"y":{"field":"bc","type":"quantitative","scale":{"domain":[0,1.05],"nice":false,"zero":false},"axis":null},"y2":{"field":"bc"}}},
{"data":{"name":"a2"},"mark":{"type":"text","angle":270,"align":"center","baseline":"top","dy":3,"fontSize":9.5,"color":"#d8303c"},
 "encoding":{"x":{"field":"median","type":"quantitative","axis":null},"y":{"field":"bc","type":"quantitative","scale":{"domain":[0,1.05],"nice":false,"zero":false},"axis":null},"text":{"field":"lm"}}},
{"data":{"name":"a2"},"mark":{"type":"text","angle":270,"align":"center","baseline":"top","dy":6,"fontSize":9.5,"color":"#d8303c"},
 "encoding":{"x":{"field":"mean","type":"quantitative","axis":null},"y":{"field":"bc","type":"quantitative","scale":{"domain":[0,1.05],"nice":false,"zero":false},"axis":null},"text":{"field":"le"}}},
{"data":{"name":"a2"},"mark":{"type":"text","align":"left","baseline":"middle","fontSize":9.4,"fontWeight":"bold","color":"black"},
 "encoding":{"x":{"field":"tx","type":"quantitative","axis":null},"y":{"field":"ty","type":"quantitative","scale":{"domain":[0,1.05],"nice":false,"zero":false},"axis":null},"text":{"field":"title"}}},
{"data":{"name":"a2"},"mark":{"type":"rect","fill":"white","opacity":0.75,"cornerRadius":3,"xOffset":-43,"x2Offset":43,"yOffset":9,"y2Offset":-9},
 "encoding":{"x":{"field":"px","type":"quantitative","axis":null},"x2":{"field":"px"},"y":{"field":"py","type":"quantitative","scale":{"domain":[0,1.05],"nice":false,"zero":false},"axis":null},"y2":{"field":"py"}}},
{"data":{"name":"a2"},"mark":{"type":"text","align":"center","baseline":"middle","fontSize":9.5,"fontWeight":"bold","color":"black"},
 "encoding":{"x":{"field":"px","type":"quantitative","axis":null},"y":{"field":"py","type":"quantitative","scale":{"domain":[0,1.05],"nice":false,"zero":false},"axis":null},"text":{"field":"pv"}}},
{"data":{"name":"g2"},"mark":{"type":"line","color":"#0e7d15","strokeWidth":2,"interpolate":"monotone"},
 "encoding":{"x":{"field":"x","type":"quantitative","axis":null},
  "y":{"field":"pdf","type":"quantitative","scale":{"domain":[-0.0012,0.0249],"nice":false,"zero":false},"axis":{"orient":"right","values":[0,0.005,0.01,0.015,0.02],"format":".3f","title":"PDF","titleColor":"#1a8a1a"}}}}
],
"resolve":{"scale":{"y":"independent"},"axis":{"x":"independent"}}
},
{
"width": 426.5, "height": 311,
"layer": [
{"data":{"name":"b3"},"mark":{"type":"bar","orient":"vertical","fill":"#5b9fd7","stroke":"#2b5b88","strokeWidth":0.6},
 "encoding":{"x":{"field":"x0","type":"quantitative","scale":{"domain":[-16.1,354.2],"nice":false,"zero":false},"axis":{"orient":"bottom","values":[0,50,100,150,200,250,300,350],"format":"d","title":"τ/[days]"}},
  "x2":{"field":"x1"},
  "y":{"field":"cdf","type":"quantitative","scale":{"domain":[0,1.05],"nice":false,"zero":false},"axis":{"orient":"left","values":[0,0.2,0.4,0.6,0.8,1],"format":".1f","title":"CDF","titleColor":"#e8141c"}}}},
{"data":{"name":"c3"},"mark":{"type":"line","color":"#ee1a1a","strokeWidth":1.6,"interpolate":"monotone"},
 "encoding":{"x":{"field":"x","type":"quantitative","axis":{"orient":"top","values":[0,50,100,150,200,250,300,350],"labels":false,"title":null}},"y":{"field":"cdf","type":"quantitative","scale":{"domain":[0,1.05],"nice":false,"zero":false},"axis":null}}},
{"data":{"name":"a3"},"mark":{"type":"rule","color":"#c3262b","strokeWidth":1.7,"strokeDash":[6,3]},
 "encoding":{"x":{"field":"xmin","type":"quantitative","axis":null},"x2":{"field":"median"},"y":{"field":"half","type":"quantitative","scale":{"domain":[0,1.05],"nice":false,"zero":false},"axis":null}}},
{"data":{"name":"a3"},"mark":{"type":"rule","color":"#c3262b","strokeWidth":1.7,"strokeDash":[6,3]},
 "encoding":{"x":{"field":"median","type":"quantitative","axis":null},"y":{"field":"lo","type":"quantitative","scale":{"domain":[0,1.05],"nice":false,"zero":false},"axis":null},"y2":{"field":"half"}}},
{"data":{"name":"a3"},"mark":{"type":"rule","color":"#f01818","strokeWidth":2.6},
 "encoding":{"x":{"field":"xmin","type":"quantitative","axis":null},"x2":{"field":"mean"},"y":{"field":"cm","type":"quantitative","scale":{"domain":[0,1.05],"nice":false,"zero":false},"axis":null}}},
{"data":{"name":"a3"},"mark":{"type":"rule","color":"#f01818","strokeWidth":2.6},
 "encoding":{"x":{"field":"mean","type":"quantitative","axis":null},"y":{"field":"lo","type":"quantitative","scale":{"domain":[0,1.05],"nice":false,"zero":false},"axis":null},"y2":{"field":"cm"}}},
{"data":{"name":"a3"},"mark":{"type":"text","align":"left","baseline":"middle","dx":4.5,"dy":-12,"fontSize":9,"color":"#f06060"},
 "encoding":{"x":{"field":"xmin","type":"quantitative","axis":null},"y":{"field":"cm","type":"quantitative","scale":{"domain":[0,1.05],"nice":false,"zero":false},"axis":null},"text":{"field":"lc"}}},
{"data":{"name":"a3"},"mark":{"type":"rect","fill":"white","opacity":0.6,"cornerRadius":3,"xOffset":1,"x2Offset":17.7,"yOffset":50,"y2Offset":-50},
 "encoding":{"x":{"field":"median","type":"quantitative","axis":null},"x2":{"field":"median"},"y":{"field":"bc","type":"quantitative","scale":{"domain":[0,1.05],"nice":false,"zero":false},"axis":null},"y2":{"field":"bc"}}},
{"data":{"name":"a3"},"mark":{"type":"rect","fill":"white","opacity":0.6,"cornerRadius":3,"xOffset":1.7,"x2Offset":21,"yOffset":53,"y2Offset":-53},
 "encoding":{"x":{"field":"mean","type":"quantitative","axis":null},"x2":{"field":"mean"},"y":{"field":"bc","type":"quantitative","scale":{"domain":[0,1.05],"nice":false,"zero":false},"axis":null},"y2":{"field":"bc"}}},
{"data":{"name":"a3"},"mark":{"type":"text","angle":270,"align":"center","baseline":"top","dy":3,"fontSize":9.5,"color":"#d8303c"},
 "encoding":{"x":{"field":"median","type":"quantitative","axis":null},"y":{"field":"bc","type":"quantitative","scale":{"domain":[0,1.05],"nice":false,"zero":false},"axis":null},"text":{"field":"lm"}}},
{"data":{"name":"a3"},"mark":{"type":"text","angle":270,"align":"center","baseline":"top","dy":6,"fontSize":9.5,"color":"#d8303c"},
 "encoding":{"x":{"field":"mean","type":"quantitative","axis":null},"y":{"field":"bc","type":"quantitative","scale":{"domain":[0,1.05],"nice":false,"zero":false},"axis":null},"text":{"field":"le"}}},
{"data":{"name":"a3"},"mark":{"type":"text","align":"left","baseline":"middle","fontSize":9.4,"fontWeight":"bold","color":"black"},
 "encoding":{"x":{"field":"tx","type":"quantitative","axis":null},"y":{"field":"ty","type":"quantitative","scale":{"domain":[0,1.05],"nice":false,"zero":false},"axis":null},"text":{"field":"title"}}},
{"data":{"name":"a3"},"mark":{"type":"rect","fill":"white","opacity":0.75,"cornerRadius":3,"xOffset":-43,"x2Offset":43,"yOffset":9,"y2Offset":-9},
 "encoding":{"x":{"field":"px","type":"quantitative","axis":null},"x2":{"field":"px"},"y":{"field":"py","type":"quantitative","scale":{"domain":[0,1.05],"nice":false,"zero":false},"axis":null},"y2":{"field":"py"}}},
{"data":{"name":"a3"},"mark":{"type":"text","align":"center","baseline":"middle","fontSize":9.5,"fontWeight":"bold","color":"black"},
 "encoding":{"x":{"field":"px","type":"quantitative","axis":null},"y":{"field":"py","type":"quantitative","scale":{"domain":[0,1.05],"nice":false,"zero":false},"axis":null},"text":{"field":"pv"}}},
{"data":{"name":"g3"},"mark":{"type":"line","color":"#0e7d15","strokeWidth":2,"interpolate":"monotone"},
 "encoding":{"x":{"field":"x","type":"quantitative","axis":null},
  "y":{"field":"pdf","type":"quantitative","scale":{"domain":[-0.00156,0.0368],"nice":false,"zero":false},"axis":{"orient":"right","values":[0,0.005,0.01,0.015,0.02,0.025,0.03,0.035],"format":".3f","title":"PDF","titleColor":"#1a8a1a"}}}}
],
"resolve":{"scale":{"y":"independent"},"axis":{"x":"independent"}}
},
{
"width": 426.5, "height": 311,
"layer": [
{"data":{"name":"b4"},"mark":{"type":"bar","orient":"vertical","fill":"#5b9fd7","stroke":"#2b5b88","strokeWidth":0.6},
 "encoding":{"x":{"field":"x0","type":"quantitative","scale":{"domain":[-7.8,175.9],"nice":false,"zero":false},"axis":{"orient":"bottom","values":[0,25,50,75,100,125,150,175],"format":"d","title":"τ/[days]"}},
  "x2":{"field":"x1"},
  "y":{"field":"cdf","type":"quantitative","scale":{"domain":[0,1.05],"nice":false,"zero":false},"axis":{"orient":"left","values":[0,0.2,0.4,0.6,0.8,1],"format":".1f","title":"CDF","titleColor":"#e8141c"}}}},
{"data":{"name":"c4"},"mark":{"type":"line","color":"#ee1a1a","strokeWidth":1.6,"interpolate":"monotone"},
 "encoding":{"x":{"field":"x","type":"quantitative","axis":{"orient":"top","values":[0,25,50,75,100,125,150,175],"labels":false,"title":null}},"y":{"field":"cdf","type":"quantitative","scale":{"domain":[0,1.05],"nice":false,"zero":false},"axis":null}}},
{"data":{"name":"a4"},"mark":{"type":"rule","color":"#c3262b","strokeWidth":1.7,"strokeDash":[6,3]},
 "encoding":{"x":{"field":"xmin","type":"quantitative","axis":null},"x2":{"field":"median"},"y":{"field":"half","type":"quantitative","scale":{"domain":[0,1.05],"nice":false,"zero":false},"axis":null}}},
{"data":{"name":"a4"},"mark":{"type":"rule","color":"#c3262b","strokeWidth":1.7,"strokeDash":[6,3]},
 "encoding":{"x":{"field":"median","type":"quantitative","axis":null},"y":{"field":"lo","type":"quantitative","scale":{"domain":[0,1.05],"nice":false,"zero":false},"axis":null},"y2":{"field":"half"}}},
{"data":{"name":"a4"},"mark":{"type":"rule","color":"#f01818","strokeWidth":2.6},
 "encoding":{"x":{"field":"xmin","type":"quantitative","axis":null},"x2":{"field":"mean"},"y":{"field":"cm","type":"quantitative","scale":{"domain":[0,1.05],"nice":false,"zero":false},"axis":null}}},
{"data":{"name":"a4"},"mark":{"type":"rule","color":"#f01818","strokeWidth":2.6},
 "encoding":{"x":{"field":"mean","type":"quantitative","axis":null},"y":{"field":"lo","type":"quantitative","scale":{"domain":[0,1.05],"nice":false,"zero":false},"axis":null},"y2":{"field":"cm"}}},
{"data":{"name":"a4"},"mark":{"type":"text","align":"left","baseline":"middle","dx":4.5,"dy":-12,"fontSize":9,"color":"#f06060"},
 "encoding":{"x":{"field":"xmin","type":"quantitative","axis":null},"y":{"field":"cm","type":"quantitative","scale":{"domain":[0,1.05],"nice":false,"zero":false},"axis":null},"text":{"field":"lc"}}},
{"data":{"name":"a4"},"mark":{"type":"rect","fill":"white","opacity":0.6,"cornerRadius":3,"xOffset":1,"x2Offset":17.7,"yOffset":49,"y2Offset":-49},
 "encoding":{"x":{"field":"median","type":"quantitative","axis":null},"x2":{"field":"median"},"y":{"field":"bc","type":"quantitative","scale":{"domain":[0,1.05],"nice":false,"zero":false},"axis":null},"y2":{"field":"bc"}}},
{"data":{"name":"a4"},"mark":{"type":"rect","fill":"white","opacity":0.6,"cornerRadius":3,"xOffset":1.7,"x2Offset":21,"yOffset":53,"y2Offset":-53},
 "encoding":{"x":{"field":"mean","type":"quantitative","axis":null},"x2":{"field":"mean"},"y":{"field":"bc","type":"quantitative","scale":{"domain":[0,1.05],"nice":false,"zero":false},"axis":null},"y2":{"field":"bc"}}},
{"data":{"name":"a4"},"mark":{"type":"text","angle":270,"align":"center","baseline":"top","dy":3,"fontSize":9.5,"color":"#d8303c"},
 "encoding":{"x":{"field":"median","type":"quantitative","axis":null},"y":{"field":"bc","type":"quantitative","scale":{"domain":[0,1.05],"nice":false,"zero":false},"axis":null},"text":{"field":"lm"}}},
{"data":{"name":"a4"},"mark":{"type":"text","angle":270,"align":"center","baseline":"top","dy":6,"fontSize":9.5,"color":"#d8303c"},
 "encoding":{"x":{"field":"mean","type":"quantitative","axis":null},"y":{"field":"bc","type":"quantitative","scale":{"domain":[0,1.05],"nice":false,"zero":false},"axis":null},"text":{"field":"le"}}},
{"data":{"name":"a4"},"mark":{"type":"text","align":"left","baseline":"middle","fontSize":9.4,"fontWeight":"bold","color":"black"},
 "encoding":{"x":{"field":"tx","type":"quantitative","axis":null},"y":{"field":"ty","type":"quantitative","scale":{"domain":[0,1.05],"nice":false,"zero":false},"axis":null},"text":{"field":"title"}}},
{"data":{"name":"a4"},"mark":{"type":"rect","fill":"white","opacity":0.75,"cornerRadius":3,"xOffset":-43,"x2Offset":43,"yOffset":9,"y2Offset":-9},
 "encoding":{"x":{"field":"px","type":"quantitative","axis":null},"x2":{"field":"px"},"y":{"field":"py","type":"quantitative","scale":{"domain":[0,1.05],"nice":false,"zero":false},"axis":null},"y2":{"field":"py"}}},
{"data":{"name":"a4"},"mark":{"type":"text","align":"center","baseline":"middle","fontSize":9.5,"fontWeight":"bold","color":"black"},
 "encoding":{"x":{"field":"px","type":"quantitative","axis":null},"y":{"field":"py","type":"quantitative","scale":{"domain":[0,1.05],"nice":false,"zero":false},"axis":null},"text":{"field":"pv"}}},
{"data":{"name":"g4"},"mark":{"type":"line","color":"#0e7d15","strokeWidth":2,"interpolate":"monotone"},
 "encoding":{"x":{"field":"x","type":"quantitative","axis":null},
  "y":{"field":"pdf","type":"quantitative","scale":{"domain":[-0.0546,1.133],"nice":false,"zero":false},"axis":{"orient":"right","values":[0,0.2,0.4,0.6,0.8,1],"format":".1f","title":"PDF","titleColor":"#1a8a1a"}}}}
],
"resolve":{"scale":{"y":"independent"},"axis":{"x":"independent"}}
}
],
"config": {
"view": {"stroke": "#1a1a1a", "strokeWidth": 1},
"axis": {"domain": false, "grid": false, "ticks": true, "tickSize": 3.5, "tickColor": "#1a1a1a", "tickWidth": 0.9, "labelFont": "DejaVu Sans", "labelFontSize": 9, "labelColor": "#333333", "labelFlush": false, "labelOverlap": false, "titleFont": "DejaVu Sans", "titleFontSize": 15, "titleFontWeight": "normal", "titleColor": "#111111"},
"axisBottom": {"labelPadding": 3.4, "titlePadding": 5, "titleFontSize": 15.5},
"axisLeft": {"labelPadding": 2.5, "titlePadding": 4.2},
"axisRight": {"labelPadding": 3.2, "titlePadding": 1.6},
"axisTop": {"labelPadding": 2},
"text": {"font": "DejaVu Sans"}
}
}
